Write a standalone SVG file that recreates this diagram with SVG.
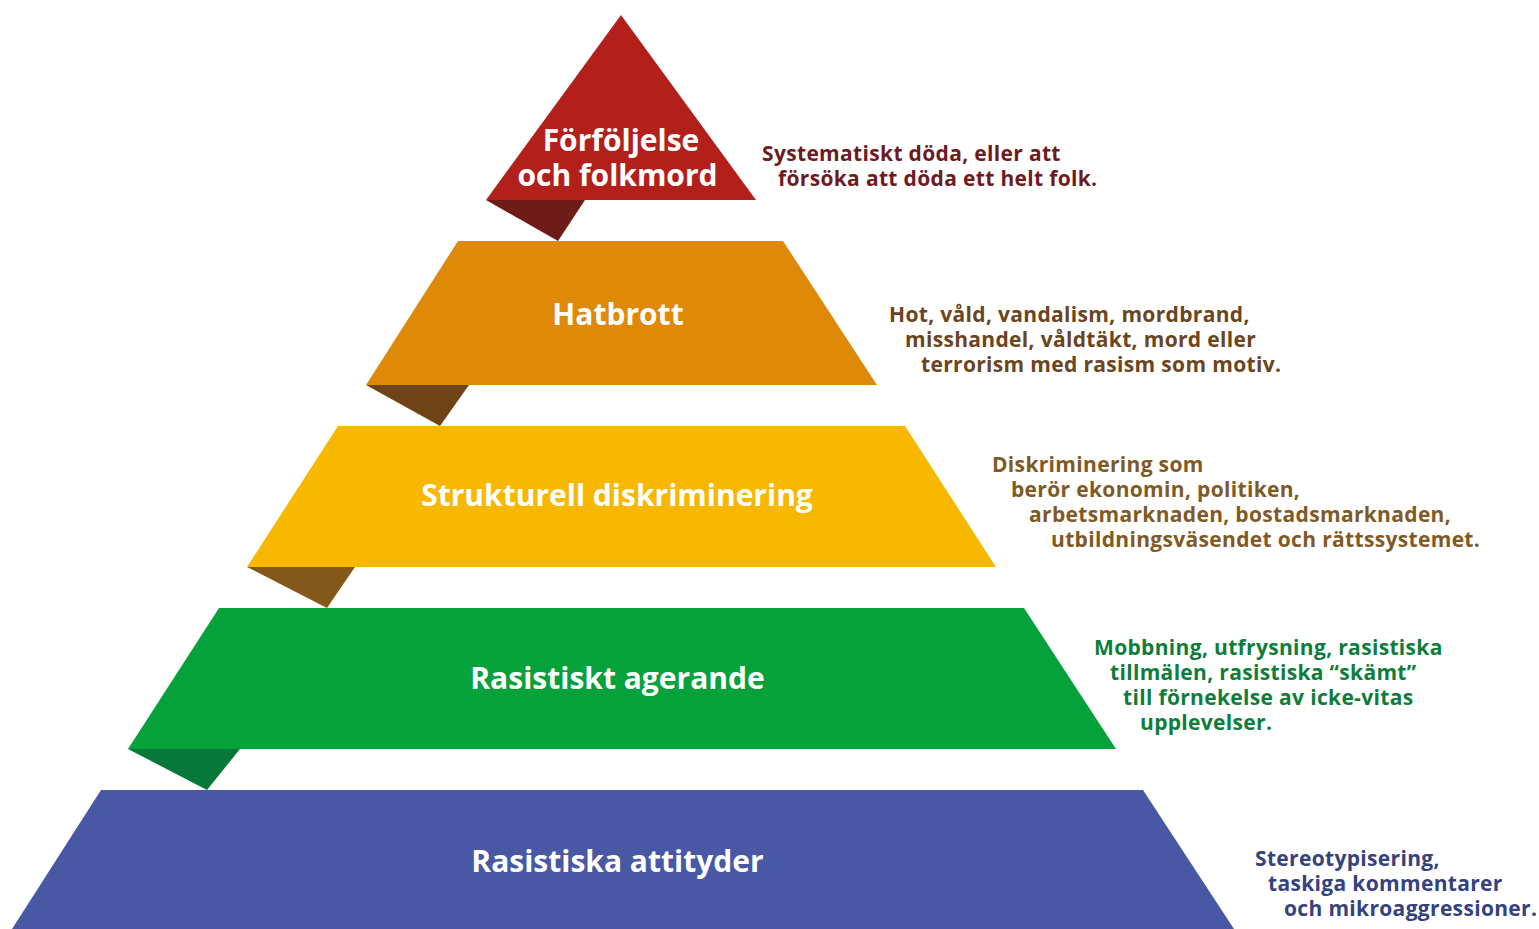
<svg xmlns="http://www.w3.org/2000/svg" width="1539" height="929" viewBox="0 0 1539 929">
<style>
.lbl{font-family:"Open Sans","Liberation Sans",sans-serif;font-weight:bold;font-size:30px;fill:#fff;text-anchor:middle}
.d{font-family:"Open Sans","Liberation Sans",sans-serif;font-weight:bold;font-size:21px;letter-spacing:0.33px}
</style>
<rect width="1539" height="929" fill="#fff"/>
<g id="level1">
<polygon points="558,241 486,200 585,200" fill="#6e1c18"/>
<polygon points="621,15 756,200 486,200" fill="#b3201c"/>
<text class="lbl" x="621" y="151">Förföljelse</text>
<text class="lbl" x="617.5" y="186">och folkmord</text>
<text class="d" fill="#6e1a1e"><tspan x="762" y="161">Systematiskt döda, eller att</tspan><tspan x="778" y="186">försöka att döda ett helt folk.</tspan></text>
</g>
<g id="level2">
<polygon points="440,426 366,385 469,385" fill="#6e4416"/>
<polygon points="458,241 783,241 877,385 366,385" fill="#de8a08"/>
<text class="lbl" x="618" y="325">Hatbrott</text>
<text class="d" fill="#6b4420"><tspan x="889" y="322">Hot, våld, vandalism, mordbrand,</tspan><tspan x="905" y="347">misshandel, våldtäkt, mord eller</tspan><tspan x="921" y="372">terrorism med rasism som motiv.</tspan></text>
</g>
<g id="level3">
<polygon points="327,608 247,567 355,567" fill="#83581b"/>
<polygon points="338,426 905,426 996,567 247,567" fill="#f8b800"/>
<text class="lbl" x="617" y="506">Strukturell diskriminering</text>
<text class="d" fill="#7f5a25"><tspan x="992" y="472">Diskriminering som</tspan><tspan x="1011" y="497">berör ekonomin, politiken,</tspan><tspan x="1029" y="522">arbetsmarknaden, bostadsmarknaden,</tspan><tspan x="1051" y="547">utbildningsväsendet och rättssystemet.</tspan></text>
</g>
<g id="level4">
<polygon points="207,790 128,749 240,749" fill="#077839"/>
<polygon points="219,608 1024,608 1116,749 128,749" fill="#05a13a"/>
<text class="lbl" x="617.5" y="689">Rasistiskt agerande</text>
<text class="d" fill="#0d7d3a"><tspan x="1094" y="655">Mobbning, utfrysning, rasistiska</tspan><tspan x="1110" y="680">tillmälen, rasistiska “skämt”</tspan><tspan x="1123" y="705">till förnekelse av icke-vitas</tspan><tspan x="1140" y="730">upplevelser.</tspan></text>
</g>
<g id="level5">
<polygon points="101,790 1143,790 1234,929 12,929" fill="#4858a4"/>
<text class="lbl" x="617.5" y="872">Rasistiska attityder</text>
<text class="d" fill="#34427d"><tspan x="1255" y="866">Stereotypisering,</tspan><tspan x="1268" y="891">taskiga kommentarer</tspan><tspan x="1284" y="916">och mikroaggressioner.</tspan></text>
</g>
<g id="connectors"></g>
</svg>
